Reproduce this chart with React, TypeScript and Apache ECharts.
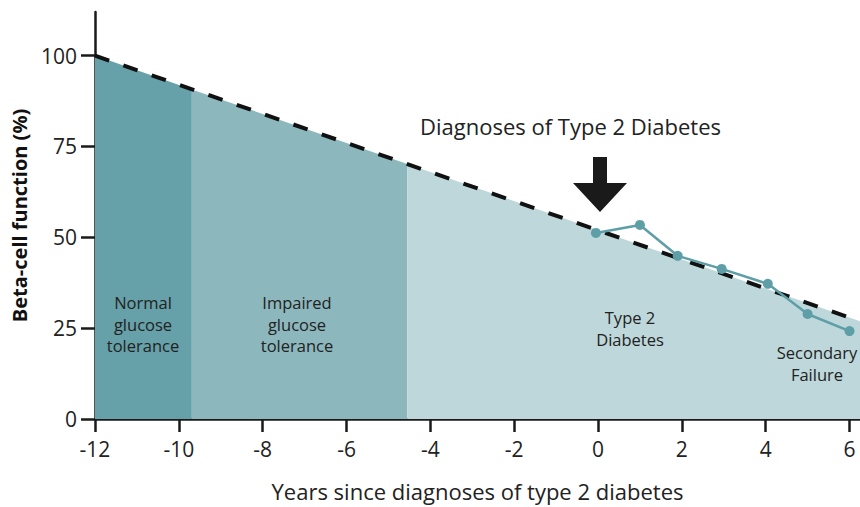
import React, { useEffect, useRef } from "react";
import * as echarts from "echarts";

const xTicks = [-12, -10, -8, -6, -4, -2, 0, 2, 4, 6];
const yTicks = [0, 25, 50, 75, 100];

// stage areas: [x, beta-cell %]
const normalArea = [[-12, 100], [-9.69, 90.7]];
const impairedArea = [[-9.69, 90.7], [-4.55, 70.2]];
const diabetesArea = [[-4.55, 70.2], [6.25, 26.9]];

// trend dashed line
const trendLine = [[-12, 100], [6.25, 26.9]];

// observed points after diagnosis
const obsYears = [-0.05, 1.0, 1.9, 2.95, 4.05, 5.0, 6.0];
const obsValues = [51.2, 53.4, 44.9, 41.3, 37.2, 28.9, 24.2];

const FONT = "'Open Sans', 'Noto Sans', sans-serif";

export default function App() {
  const ref = useRef<HTMLDivElement>(null);
  useEffect(() => {
    if (!ref.current) return;
    const chart = echarts.init(ref.current, undefined, { renderer: "svg" });
    const areaSeries = (data: number[][], color: string) => ({
      type: "line",
      data,
      symbol: "none",
      lineStyle: { width: 0 },
      areaStyle: { color, opacity: 1 },
      silent: true,
      z: 1,
    });
    const regionText = (x: number, y: number, text: string) => ({
      type: "text",
      x,
      y,
      z: 50,
      style: { text, fill: "#222", fontSize: 16.5, lineHeight: 21.5, align: "center", fontFamily: FONT },
    });
    chart.setOption({
      animation: false,
      grid: { left: 95, right: 0, top: 12, bottom: 88, containLabel: false },
      xAxis: {
        type: "value",
        min: -12,
        max: 6.25,
        interval: 2,
        splitLine: { show: false },
        axisLine: { onZero: false, lineStyle: { color: "#1a1a1a", width: 2.5 } },
        axisTick: { show: true, length: 13, lineStyle: { color: "#1a1a1a", width: 2.5 }, customValues: xTicks },
        axisLabel: { customValues: xTicks, color: "#222", fontSize: 21, fontFamily: FONT, margin: 19 },
        name: "Years since diagnoses of type 2 diabetes",
        nameLocation: "middle",
        nameGap: 61,
        nameTextStyle: { color: "#222", fontSize: 22, fontFamily: FONT },
      },
      yAxis: {
        type: "value",
        min: 0,
        max: 112,
        interval: 25,
        splitLine: { show: false },
        axisLine: { show: true, onZero: false, lineStyle: { color: "#1a1a1a", width: 2.5 } },
        axisTick: { show: true, length: 14, lineStyle: { color: "#1a1a1a", width: 2.5 }, customValues: yTicks },
        axisLabel: { customValues: yTicks, color: "#222", fontSize: 21, fontFamily: FONT, margin: 18 },
        name: "Beta-cell function (%)",
        nameLocation: "middle",
        nameGap: 66,
        nameTextStyle: { color: "#111", fontSize: 20, fontWeight: "bold", fontFamily: FONT },
      },
      series: [
        areaSeries(normalArea, "#66a0a8"),
        areaSeries(impairedArea, "#8cb7bd"),
        areaSeries(diabetesArea, "#bdd7da"),
        {
          type: "line",
          data: trendLine,
          symbol: "none",
          lineStyle: { color: "#111", width: 4, type: [15, 15] },
          z: 3,
          silent: true,
        },
        {
          type: "line",
          data: obsYears.map((x, i) => [x, obsValues[i]]),
          symbol: "circle",
          symbolSize: 10,
          itemStyle: { color: "#5e9ea6" },
          lineStyle: { color: "#5e9ea6", width: 2.5 },
          z: 4,
        },
      ],
      graphic: [
        {
          type: "text",
          left: 420,
          top: 115,
          z: 50,
          style: { text: "Diagnoses of Type 2 Diabetes", fill: "#222", fontSize: 22, fontFamily: FONT },
        },
        {
          type: "polygon",
          z: 50,
          shape: {
            points: [
              [593, 157], [607, 157], [607, 183], [627, 183], [600, 212], [573, 183], [593, 183],
            ],
          },
          style: { fill: "#1a1a1a" },
        },
        regionText(143, 292, "Normal\nglucose\ntolerance"),
        regionText(297, 292, "Impaired\nglucose\ntolerance"),
        regionText(630, 307, "Type 2\nDiabetes"),
        regionText(817, 342, "Secondary\nFailure"),
      ],
    });
    return () => chart.dispose();
  }, []);
  return <div ref={ref} style={{ width: 860, height: 507, position: "absolute", left: 0, top: 0 }} />;
}
